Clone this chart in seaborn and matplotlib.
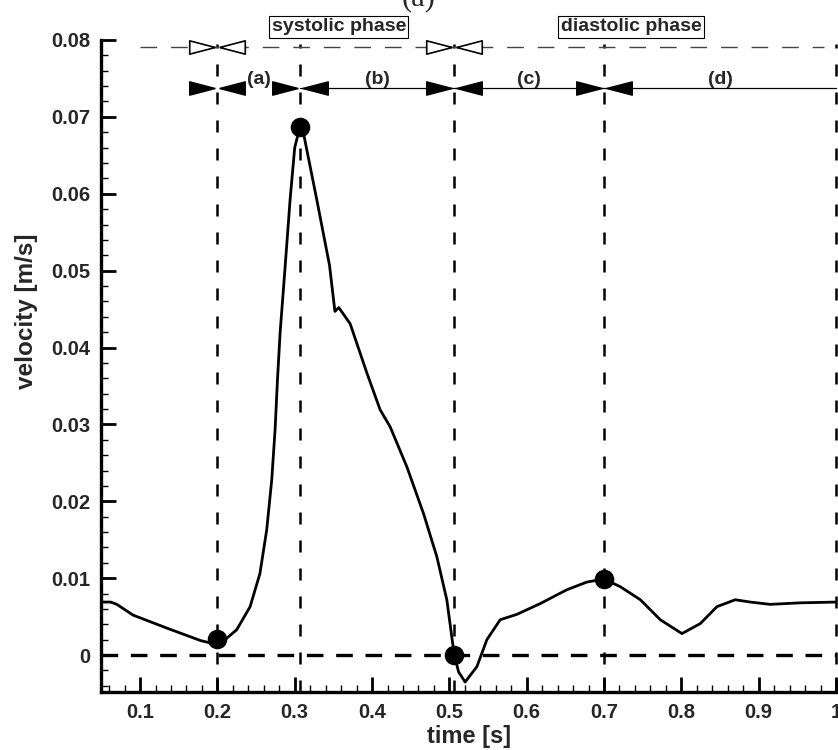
import numpy as np
import matplotlib
matplotlib.use("Agg")
import matplotlib.pyplot as plt
import seaborn as sns
from matplotlib.ticker import MultipleLocator, FixedLocator, FixedFormatter

# velocity waveform
time_s = [0.05, 0.062, 0.07, 0.091, 0.135, 0.178, 0.19, 0.2, 0.2121, 0.225, 0.2423,
          0.255, 0.2638, 0.2703, 0.2746, 0.2777, 0.2811, 0.2876, 0.294, 0.300,
          0.307, 0.3113, 0.3286, 0.345, 0.352, 0.357, 0.3717, 0.3933, 0.4105,
          0.4234, 0.445, 0.4666, 0.4838, 0.4967, 0.5062, 0.512, 0.5204, 0.5356,
          0.5485, 0.5657, 0.5873, 0.6175, 0.6519, 0.6778, 0.7, 0.721, 0.747,
          0.7728, 0.8008, 0.8245, 0.846, 0.8697, 0.8891, 0.915, 0.9538, 1.0]
velocity = [0.0069, 0.0069, 0.0066, 0.0052, 0.0035, 0.0019, 0.0016, 0.0018, 0.0022,
            0.0033, 0.0063, 0.0106, 0.0163, 0.0228, 0.0293, 0.0358, 0.0419, 0.0505,
            0.0592, 0.066, 0.0688, 0.0679, 0.0592, 0.0507, 0.0447, 0.0452, 0.0431,
            0.0367, 0.0319, 0.0297, 0.0245, 0.0184, 0.0128, 0.0072, 0.0001, -0.0022,
            -0.0035, -0.0015, 0.002, 0.0046, 0.0053, 0.0067, 0.0085, 0.0095, 0.0099,
            0.0089, 0.0072, 0.0046, 0.0028, 0.0041, 0.0063, 0.0072, 0.0069, 0.0066,
            0.0068, 0.0069]

# highlighted instants
key_t = [0.2, 0.307, 0.506, 0.7]
key_v = [0.0021, 0.0687, 0.0, 0.0099]

# interval boundaries and labels
bounds = [0.2, 0.307, 0.506, 0.7, 1.0]
interval_labels = ["(a)", "(b)", "(c)", "(d)"]
phase_bounds = [0.2, 0.506]
phase_labels = ["systolic phase", "diastolic phase"]
phase_centers = [0.357, 0.735]

xticks = [0.1, 0.2, 0.3, 0.4, 0.5, 0.6, 0.7, 0.8, 0.9, 1.0]
xticklabels = ["0.1", "0.2", "0.3", "0.4", "0.5", "0.6", "0.7", "0.8", "0.9", "1"]
yticks = [0, 0.01, 0.02, 0.03, 0.04, 0.05, 0.06, 0.07, 0.08]
yticklabels = ["0", "0.01", "0.02", "0.03", "0.04", "0.05", "0.06", "0.07", "0.08"]

sns.set_theme(style="ticks")
plt.rcParams['font.family'] = ['Liberation Sans', 'DejaVu Sans']

fig, ax = plt.subplots(figsize=(8.38, 7.5), dpi=100)
fig.subplots_adjust(left=0.121, right=0.9976, bottom=0.0773, top=0.9467)

y_phase = 0.0791
y_int = 0.0738

# dashed guide lines
ax.vlines(bounds, -0.0048, y_phase + 0.0004, colors="black", linewidth=1.8,
          linestyles=(0, (4.8, 6.4)), zorder=2, clip_on=False)
ax.plot([0.05, 1.0], [0, 0], color="black", linewidth=2.4,
        dashes=(5.0, 3.8), zorder=2)

# curve and markers
sns.lineplot(x=time_s, y=velocity, ax=ax, color="black", linewidth=2.0,
             estimator=None, sort=False, zorder=4)
sns.scatterplot(x=key_t, y=key_v, ax=ax, color="black", s=170,
                edgecolor="black", zorder=5, clip_on=False)

# top row: phases
ax.plot([0.1, 0.985], [y_phase, y_phase], color="#444444", linewidth=1.0,
        dashes=(12, 10), zorder=3, clip_on=False)
right_tri = [(-0.08, 0), (-1, 0.24), (-1, -0.24), (-0.08, 0)]
left_tri = [(0.08, 0), (1, 0.24), (1, -0.24), (0.08, 0)]
ax.plot(phase_bounds, [y_phase] * len(phase_bounds), linestyle="none",
        marker=right_tri, markersize=40, markerfacecolor="white",
        markeredgecolor="black", markeredgewidth=1.2, zorder=6, clip_on=False)
ax.plot(phase_bounds, [y_phase] * len(phase_bounds), linestyle="none",
        marker=left_tri, markersize=40, markerfacecolor="white",
        markeredgecolor="black", markeredgewidth=1.2, zorder=6, clip_on=False)
for label, xc in zip(phase_labels, phase_centers):
    ax.text(xc, 0.0817, label, ha="center", va="center", fontsize=14,
            fontweight="bold", clip_on=False,
            bbox=dict(boxstyle="square,pad=0.12", facecolor="white",
                      edgecolor="black", linewidth=0.8))

# second row: intervals
ax.plot([bounds[1], bounds[-1]], [y_int, y_int], color="black", linewidth=0.9,
        zorder=3, clip_on=False)
ax.plot(bounds[:-1], [y_int] * (len(bounds) - 1), linestyle="none",
        marker=right_tri, markersize=40, color="black", zorder=6, clip_on=False)
ax.plot(bounds[:-1], [y_int] * (len(bounds) - 1), linestyle="none",
        marker=left_tri, markersize=40, color="black", zorder=6, clip_on=False)
for label, x0, x1 in zip(interval_labels, bounds[:-1], bounds[1:]):
    ax.text((x0 + x1) / 2, 0.0749, label, ha="center", va="center",
            fontsize=14, fontweight="bold", clip_on=False)

# axes styling
ax.set_xlim(0.05, 1.0)
ax.set_ylim(-0.0048, 0.08)
sns.despine(ax=ax)
for side in ["left", "bottom"]:
    ax.spines[side].set_linewidth(2.4)
    ax.spines[side].set_color("black")
ax.xaxis.set_major_locator(FixedLocator(xticks))
ax.xaxis.set_major_formatter(FixedFormatter(xticklabels))
ax.yaxis.set_major_locator(FixedLocator(yticks))
ax.yaxis.set_major_formatter(FixedFormatter(yticklabels))
ax.xaxis.set_minor_locator(MultipleLocator(0.02))
ax.yaxis.set_minor_locator(MultipleLocator(0.002))
ax.tick_params(which="major", direction="in", length=11, width=2.0,
               labelsize=14.5, color="black", pad=8)
ax.tick_params(which="minor", direction="in", length=5, width=1.0, color="black")
for lab in ax.get_xticklabels() + ax.get_yticklabels():
    lab.set_fontweight("bold")

ax.set_xlabel("time [s]", fontsize=17, fontweight="bold", labelpad=2)
ax.set_ylabel("velocity [m/s]", fontsize=17.5, fontweight="bold")
ax.yaxis.set_label_coords(-0.086, 0.584)

fig.text(0.5, 0.984, "(a)", ha="center", va="bottom", fontsize=22,
         family=['Liberation Serif', 'DejaVu Serif'])

fig.savefig("out.png", dpi=100, facecolor="white")
